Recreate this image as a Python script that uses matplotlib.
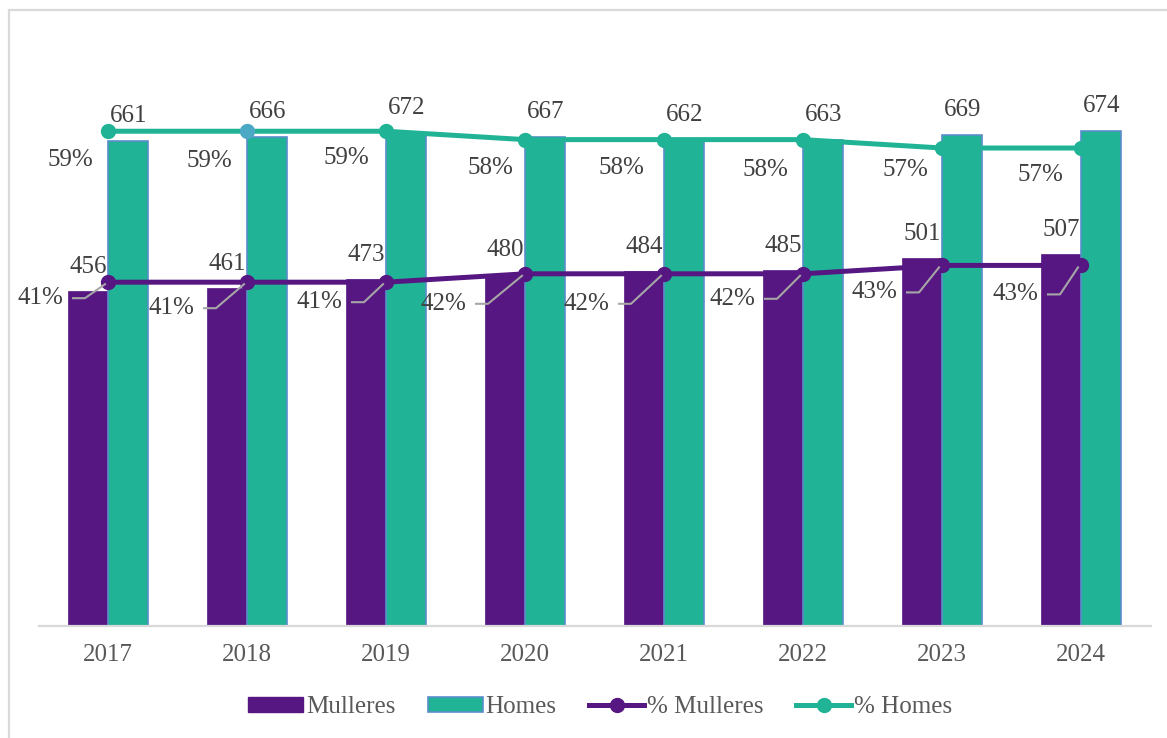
import matplotlib.pyplot as plt
import matplotlib.transforms as mtransforms
from matplotlib.patches import Patch, Rectangle
from matplotlib.lines import Line2D

# data
years = ["2017", "2018", "2019", "2020", "2021", "2022", "2023", "2024"]
mulleres = [456, 461, 473, 480, 484, 485, 501, 507]
homes = [661, 666, 672, 667, 662, 663, 669, 674]
pct_mulleres = [0.41, 0.41, 0.41, 0.42, 0.42, 0.42, 0.43, 0.43]
pct_homes = [0.59, 0.59, 0.59, 0.58, 0.58, 0.58, 0.57, 0.57]

# colours
PURPLE = "#561782"
TEAL = "#20b395"
EDGE = "#5b8ccb"
HILITE = "#4ba9c6"
TXT = "#404040"
TICK = "#595959"
GRID = "#d9d9d9"
homes_marker_colors = [TEAL, HILITE, TEAL, TEAL, TEAL, TEAL, TEAL, TEAL]

# label offsets in pixels (dx, dy; dy measured downward)
homes_pct_off = [(-38, 29), (-38, 30), (-40, 27), (-35, 28), (-43, 28), (-38, 30), (-37, 22), (-41, 27)]
# right edge of label relative to point, and leader height
mull_pct_off = [(-45, 16), (-53, 26), (-44, 20), (-59, 30), (-55, 30), (-48, 25), (-45, 27), (-43, 29)]

plt.rcParams["font.family"] = ["Liberation Serif", "DejaVu Serif"]
FS = 18

fig = plt.figure(figsize=(11.67, 7.38), dpi=100)
# outer chart frame
fig.add_artist(Rectangle((9 / 1167, -0.1), 1.2, 1.1 - 10 / 738, transform=fig.transFigure,
                         fill=False, edgecolor=GRID, linewidth=1.6))

ax = fig.add_axes([38.5 / 1167, 112 / 738, 1112 / 1167, 587 / 738])
ax2 = ax.twinx()

x = list(range(len(years)))
w = 0.29
xm = [i - w / 2 for i in x]
xh = [i + w / 2 for i in x]
ax.bar(xm, mulleres, width=w, color=PURPLE, edgecolor=PURPLE, linewidth=0.5, zorder=2)
ax.bar(xh, homes, width=w, color=TEAL, edgecolor=EDGE, linewidth=1.2, zorder=2)

ax.set_xlim(-0.5, len(years) - 0.5)
ax.set_ylim(0, 800)
ax2.set_ylim(0, 0.70)
ax.set_xticks(x)
ax.set_xticklabels(years, fontsize=FS, color=TICK)
ax.tick_params(axis="x", length=0, pad=13)
ax.set_yticks([])
ax2.set_yticks([])
for a in (ax, ax2):
    for s in ("top", "left", "right"):
        a.spines[s].set_visible(False)
    a.spines["bottom"].set_color(GRID)
    a.spines["bottom"].set_linewidth(1.6)
ax2.spines["bottom"].set_visible(False)

# bar value labels
for i in x:
    ax.annotate(str(mulleres[i]), (xm[i], mulleres[i]), xytext=(0, 13), textcoords="offset pixels",
                ha="center", va="bottom", fontsize=FS, color=TXT, zorder=6)
    ax.annotate(str(homes[i]), (xh[i], homes[i]), xytext=(0, 14), textcoords="offset pixels",
                ha="center", va="bottom", fontsize=FS, color=TXT, zorder=6)

# percentage lines
ax2.plot(x, pct_mulleres, color=PURPLE, linewidth=3.6, marker="o", markersize=10, zorder=4)
ax2.plot(x, pct_homes, color=TEAL, linewidth=3.6, zorder=4)
for i in x:
    ax2.plot(i, pct_homes[i], "o", color=homes_marker_colors[i], markersize=10, zorder=5)

for i in x:
    dx, dy = homes_pct_off[i]
    ax2.annotate(f"{pct_homes[i]:.0%}", (i, pct_homes[i]), xytext=(dx, -dy), textcoords="offset pixels",
                 ha="center", va="center", fontsize=FS, color=TXT, zorder=6)
    rx, ry = mull_pct_off[i]
    ax2.annotate(f"{pct_mulleres[i]:.0%}", (i, pct_mulleres[i]), xytext=(rx, -ry), textcoords="offset pixels",
                 ha="right", va="center", fontsize=FS, color=TXT, zorder=6)
    tr = mtransforms.Affine2D() + mtransforms.ScaledTranslation(i, pct_mulleres[i], ax2.transData)
    lead = Line2D([rx + 10, rx + 22, -3], [-ry, -ry, -2], transform=tr, color="#a6a6a6",
                  linewidth=1.5, zorder=6)
    ax2.add_artist(lead)

handles = [
    Patch(facecolor=PURPLE, edgecolor=PURPLE),
    Patch(facecolor=TEAL, edgecolor=EDGE, linewidth=1.2),
    Line2D([], [], color=PURPLE, linewidth=3.6, marker="o", markersize=10),
    Line2D([], [], color=TEAL, linewidth=3.6, marker="o", markersize=10),
]
labels = ["Mulleres", "Homes", "% Mulleres", "% Homes"]
leg = fig.legend(handles, labels, loc="center", bbox_to_anchor=(600 / 1167, 31 / 738), ncol=4,
                 frameon=False, fontsize=FS, handlelength=2.2, handleheight=0.55,
                 handletextpad=0.12, columnspacing=1.3)
for t in leg.get_texts():
    t.set_color(TICK)

fig.savefig("out.png", dpi=100)
